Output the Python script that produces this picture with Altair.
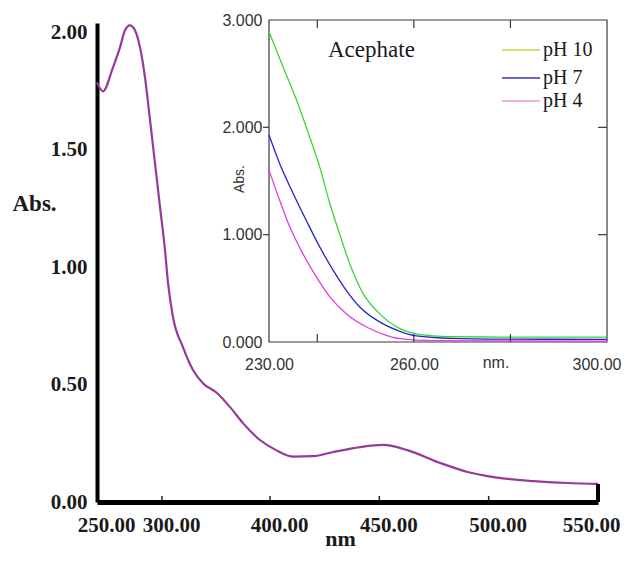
import altair as alt
import pandas as pd

# ---------------- data ----------------
# main spectrum (nm, absorbance)
main_nm = [250.0, 254.6, 262.3, 267.7, 271.5, 275.4, 279.2, 283.1, 286.9, 290.8,
           294.6, 298.5, 302.8, 305.6, 310.2, 319.4, 328.7, 337.9, 350.9, 363.0,
           375.0, 390.7, 402.8, 410.6, 419.7, 428.9, 441.3, 451.8, 462.8, 477.9,
           490.4, 502.3, 520.6, 536.2, 550.0]
main_abs = [1.787, 1.749, 1.851, 1.936, 2.009, 2.030, 2.009, 1.936, 1.809, 1.626,
            1.443, 1.255, 1.072, 0.932, 0.787, 0.660, 0.562, 0.506, 0.464, 0.404,
            0.336, 0.264, 0.221, 0.193, 0.195, 0.213, 0.234, 0.243, 0.221, 0.166,
            0.128, 0.106, 0.089, 0.081, 0.077]

main_x_ticks = [250, 300, 400, 450, 500, 550]
main_inner_ticks = [300, 400, 450, 500]
main_y_ticks = [0.0, 0.5, 1.0, 1.5, 2.0]

# inset (Acephate at three pH values)
inset_series = ["pH 10", "pH 7", "pH 4"]
ph10_nm = [230, 232.9, 235.7, 238.4, 240.5, 242.6, 244.6, 246.7, 249.5, 252.9,
           257.1, 260.2, 264.0, 268.1, 277.8, 300]
ph10_abs = [2.891, 2.565, 2.254, 1.912, 1.632, 1.290, 1.010, 0.731, 0.451, 0.264,
            0.124, 0.078, 0.058, 0.050, 0.046, 0.045]
ph7_nm = [230, 232.2, 235.0, 237.7, 240.5, 243.3, 246.0, 248.8, 252.9, 257.1,
          260.5, 268.1, 277.8, 300]
ph7_abs = [1.928, 1.663, 1.384, 1.135, 0.886, 0.668, 0.482, 0.326, 0.187, 0.100,
           0.058, 0.034, 0.027, 0.025]
ph4_nm = [230, 232.2, 234.3, 237.0, 239.8, 242.6, 246.0, 250.2, 254.3, 257.1,
          264.0, 300]
ph4_abs = [1.601, 1.321, 1.073, 0.824, 0.606, 0.420, 0.264, 0.140, 0.062, 0.031,
           0.012, 0.008]

inset_x_labels = [230, 260, 300]
inset_x_ticks = [240, 260, 280]
inset_y_labels = [0, 1, 2, 3]
inset_y_ticks = [1, 2]

# ---------------- styles / layout ----------------
W, H = 501, 479
curve_color = "#963a9a"
inset_colors = ["#3cd43c", "#2424cc", "#e03ee0"]
legend_colors = ["#b4df45", "#3434c4", "#f09ad8"]
SERIF = "Liberation Serif"
SANS = "Liberation Sans"

one = pd.DataFrame({"k": [0]})

main_df = pd.DataFrame({"nm": main_nm, "abs": main_abs})
xs_main = alt.Scale(domain=[250, 300, 400, 550], range=[0, 65, 173, W], nice=False, zero=False)
ys_main = alt.Scale(domain=[0, 2.04], nice=False, zero=False)

main_line = alt.Chart(main_df).mark_line(
    color=curve_color, strokeWidth=2.2, interpolate="monotone"
).encode(
    x=alt.X("nm:Q", scale=xs_main, axis=alt.Axis(
        values=main_x_ticks, format=".2f", ticks=False, grid=False,
        domainColor="black", domainWidth=5,
        labelFont=SERIF, labelFontWeight="bold", labelFontSize=21, labelColor="#1a1a1a",
        labelFlush=False, labelOverlap=False,
        labelAlign={"condition": {"test": "datum.value == 550", "value": "right"}, "value": "center"},
        labelOffset={"condition": {"test": "datum.value == 550", "value": 22}, "value": 9},
        labelPadding=12,
        title="nm", titleFont=SERIF, titleFontWeight="bold", titleFontSize=22,
        titleColor="#1a1a1a", titleX=243, titleY=48, titleAlign="center",
        titleBaseline="bottom")),
    y=alt.Y("abs:Q", scale=ys_main, axis=alt.Axis(
        values=main_y_ticks, format=".2f", ticks=False, grid=False,
        domainColor="black", domainWidth=4,
        labelFont=SERIF, labelFontWeight="bold", labelFontSize=21, labelColor="#1a1a1a",
        labelPadding=10, labelOverlap=False,
        title="Abs.", titleFont=SERIF, titleFontWeight="bold", titleFontSize=23,
        titleColor="#1a1a1a", titleAngle=0, titleX=-85, titleY=180,
        titleAlign="left", titleBaseline="middle")),
)

main_ticks = alt.Chart(pd.DataFrame({"t": main_inner_ticks})).mark_rule(
    color="#222", strokeWidth=1.5
).encode(
    x=alt.X("t:Q", scale=xs_main),
    y=alt.value(H - 6), y2=alt.value(H - 2),
)

end_bar = alt.Chart(pd.DataFrame({"nm": [main_nm[-1]], "y0": [0.0], "y1": [main_abs[-1]]})).mark_rule(
    color="black", strokeWidth=4
).encode(
    x=alt.X("nm:Q", scale=xs_main),
    y=alt.Y("y0:Q", scale=ys_main),
    y2="y1:Q",
)

main = alt.layer(main_line, main_ticks, end_bar)

# ---------------- inset ----------------
IX0, IX1 = 172, 510
IY0, IY1 = -3, 319
xs_in = alt.Scale(domain=[230, 300], range=[IX0, IX1], nice=False, zero=False)
ys_in = alt.Scale(domain=[0, 3], range=[IY1, IY0], nice=False, zero=False)

inset_df = pd.concat([
    pd.DataFrame({"nm": ph10_nm, "abs": ph10_abs, "pH": inset_series[0]}),
    pd.DataFrame({"nm": ph7_nm, "abs": ph7_abs, "pH": inset_series[1]}),
    pd.DataFrame({"nm": ph4_nm, "abs": ph4_abs, "pH": inset_series[2]}),
])

frame = alt.Chart(one).mark_rect(fill="white", stroke="#3a3a3a", strokeWidth=1.2).encode(
    x=alt.value(IX0), x2=alt.value(IX1), y=alt.value(IY0), y2=alt.value(IY1)
)

inset_lines = alt.Chart(inset_df).mark_line(strokeWidth=1.3, interpolate="monotone").encode(
    x=alt.X("nm:Q", scale=xs_in, axis=alt.Axis(
        orient="bottom", offset=IY1 - H, values=inset_x_labels, format=".2f",
        ticks=False, domain=False, grid=False, labelFont=SANS, labelFontSize=16,
        labelColor="#333", labelPadding=14, labelFlush=False, labelOverlap=False,
        labelAlign={"condition": {"test": "datum.value == 300", "value": "right"}, "value": "center"},
        labelOffset={"condition": {"test": "datum.value == 300", "value": 14}, "value": 0},
        title=None)),
    y=alt.Y("abs:Q", scale=ys_in, axis=alt.Axis(
        orient="left", offset=-IX0, values=inset_y_labels, format=".3f",
        ticks=False, domain=False, grid=False, labelFont=SANS, labelFontSize=16,
        labelColor="#333", labelPadding=7, labelOverlap=False, title=None)),
    color=alt.Color("pH:N", scale=alt.Scale(domain=inset_series, range=inset_colors), legend=None),
    detail="pH:N",
)

xt = pd.DataFrame({"t": inset_x_ticks})
yt = pd.DataFrame({"t": inset_y_ticks})
tick_style = dict(color="#3a3a3a", strokeWidth=1.2)
top_ticks = alt.Chart(xt).mark_rule(**tick_style).encode(
    x=alt.X("t:Q", scale=xs_in), y=alt.value(IY0), y2=alt.value(IY0 + 8))
bot_ticks = alt.Chart(xt).mark_rule(**tick_style).encode(
    x=alt.X("t:Q", scale=xs_in), y=alt.value(IY1 - 8), y2=alt.value(IY1))
left_ticks = alt.Chart(yt).mark_rule(**tick_style).encode(
    y=alt.Y("t:Q", scale=ys_in), x=alt.value(IX0 - 6), x2=alt.value(IX0))
right_ticks = alt.Chart(yt).mark_rule(**tick_style).encode(
    y=alt.Y("t:Q", scale=ys_in), x=alt.value(IX1 - 9), x2=alt.value(IX1))

abs_text = alt.Chart(one).mark_text(
    text="Abs.", angle=270, font=SANS, fontSize=14, color="#333", baseline="middle", align="center"
).encode(x=alt.value(143), y=alt.value(156))

nm_text = alt.Chart(one).mark_text(
    text="nm.", font=SANS, fontSize=16, color="#333", baseline="middle", align="center"
).encode(x=alt.value(399), y=alt.value(340))

title_text = alt.Chart(one).mark_text(
    text="Acephate", font=SERIF, fontSize=23, color="#1a1a1a", baseline="middle", align="left"
).encode(x=alt.value(231), y=alt.value(27))

leg_y = [27, 55, 78]
legend_layers = []
for i, name in enumerate(inset_series):
    legend_layers.append(alt.Chart(one).mark_rule(color=legend_colors[i], strokeWidth=1.5).encode(
        x=alt.value(405), x2=alt.value(443), y=alt.value(leg_y[i])))
    legend_layers.append(alt.Chart(one).mark_text(
        text=name, font=SERIF, fontSize=20, color="#1a1a1a", baseline="middle", align="left"
    ).encode(x=alt.value(446), y=alt.value(leg_y[i])))

inset = alt.layer(frame, inset_lines, top_ticks, bot_ticks, left_ticks, right_ticks,
                  abs_text, nm_text, title_text, *legend_layers)

chart = alt.layer(main, inset).resolve_scale(
    x="independent", y="independent"
).properties(
    width=W, height=H,
    autosize=alt.AutoSizeParams(type="none"),
    padding={"left": 89, "top": 15, "right": 25, "bottom": 49},
    background="white",
).configure_view(stroke=None)

chart.save("out.html", embed_options={"renderer": "svg", "actions": False})
